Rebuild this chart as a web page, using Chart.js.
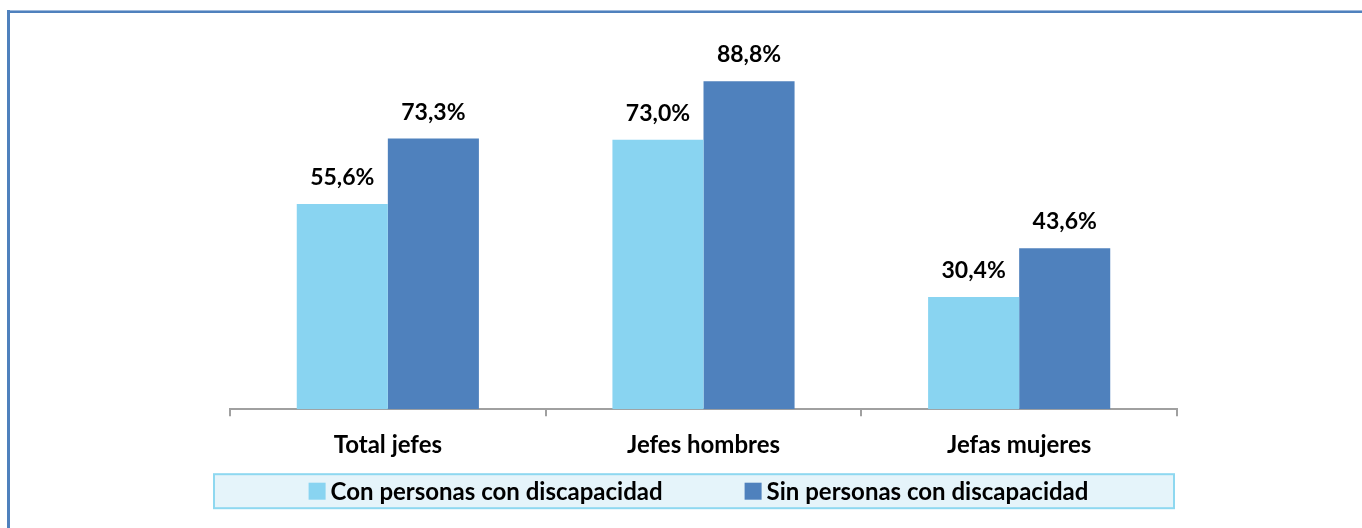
<!DOCTYPE html>
<html>
<head>
<meta charset="utf-8">
<script src="https://cdn.jsdelivr.net/npm/chart.js@4/dist/chart.umd.min.js"></script>
<style>
html,body{margin:0;padding:0;background:#fff;width:1362px;height:528px;overflow:hidden;}
#wrap{position:absolute;left:0;top:0;width:1362px;height:528px;}
</style>
</head>
<body>
<div id="wrap"><canvas id="c" width="1362" height="528"></canvas></div>
<script>
const categories = ["Total jefes", "Jefes hombres", "Jefas mujeres"];
const seriesNames = ["Con personas con discapacidad", "Sin personas con discapacidad"];
const conDiscapacidad = [55.6, 73.0, 30.4];
const sinDiscapacidad = [73.3, 88.8, 43.6];

const FONT = "Lato, 'Open Sans', sans-serif";

const fmt = v => v.toFixed(1).replace('.', ',') + '%';

const framePlugin = {
  id: 'frame',
  beforeDraw(chart) {
    const ctx = chart.ctx;
    ctx.save();
    ctx.fillStyle = '#4F81BD';
    ctx.fillRect(7, 10, chart.width - 7, 3);
    ctx.fillRect(7, 10, 3, chart.height - 10);
    ctx.fillStyle = '#9DB9DC';
    ctx.fillRect(10, 10, chart.width - 10, 1);
    ctx.restore();
  }
};

const labelPlugin = {
  id: 'barLabels',
  afterDatasetsDraw(chart) {
    const ctx = chart.ctx;
    ctx.save();
    ctx.font = "bold 23px " + FONT;
    ctx.fillStyle = '#000';
    ctx.textAlign = 'center';
    ctx.textBaseline = 'alphabetic';
    chart.data.datasets.forEach((ds, i) => {
      const meta = chart.getDatasetMeta(i);
      meta.data.forEach((bar, j) => {
        ctx.fillText(fmt(ds.data[j]), bar.x, bar.y - 19);
      });
    });
    ctx.restore();
  }
};

const legendPlugin = {
  id: 'boxedLegend',
  afterDraw(chart) {
    const ca = chart.chartArea;
    const ctx = chart.ctx;
    ctx.save();
    const bx = ca.left - 16, bw = (ca.right - 3) - bx;
    const by = ca.bottom + 65, bh = 34;
    ctx.fillStyle = '#E5F4FA';
    ctx.strokeStyle = '#8ED8F0';
    ctx.lineWidth = 2;
    ctx.fillRect(bx, by, bw, bh);
    ctx.strokeRect(bx, by, bw, bh);
    ctx.font = "bold 24px " + FONT;
    const sq = 17, gapText = 5, gapItem = 82;
    const items = chart.data.datasets.map(d => ({ text: d.label, color: d.backgroundColor, w: ctx.measureText(d.label).width }));
    let total = 0;
    items.forEach((it, i) => { total += sq + gapText + it.w + (i ? gapItem : 0); });
    let x = (ca.left + ca.right) / 2 - 5 - total / 2;
    const cy = by + bh / 2;
    ctx.textBaseline = 'middle';
    ctx.textAlign = 'left';
    items.forEach((it, i) => {
      if (i) x += gapItem;
      ctx.fillStyle = it.color;
      ctx.fillRect(x, cy - sq / 2, sq, sq);
      x += sq + gapText;
      ctx.fillStyle = '#000';
      ctx.fillText(it.text, x, cy + 1);
      x += it.w;
    });
    ctx.restore();
  }
};

new Chart(document.getElementById('c'), {
  type: 'bar',
  data: {
    labels: categories,
    datasets: [
      { label: seriesNames[0], data: conDiscapacidad, backgroundColor: '#89D4F1' },
      { label: seriesNames[1], data: sinDiscapacidad, backgroundColor: '#4F81BD' }
    ]
  },
  options: {
    responsive: false,
    animation: false,
    layout: { padding: { left: 230, right: 185, top: 40, bottom: 53 } },
    scales: {
      x: {
        grid: { display: true, drawOnChartArea: false, offset: true, tickLength: 7, color: '#A0A0A0', tickColor: '#A0A0A0', lineWidth: 2 },
        border: { display: true, color: '#A0A0A0', width: 2 },
        ticks: { color: '#000', font: { family: FONT, size: 24, weight: 'bold' }, padding: 15 },
        categoryPercentage: 0.577,
        barPercentage: 1
      },
      y: {
        display: false,
        min: 0,
        max: 100
      }
    },
    datasets: { bar: { categoryPercentage: 0.577, barPercentage: 1 } },
    plugins: {
      legend: { display: false },
      tooltip: { enabled: false }
    }
  },
  plugins: [framePlugin, labelPlugin, legendPlugin]
});
</script>
</body>
</html>
